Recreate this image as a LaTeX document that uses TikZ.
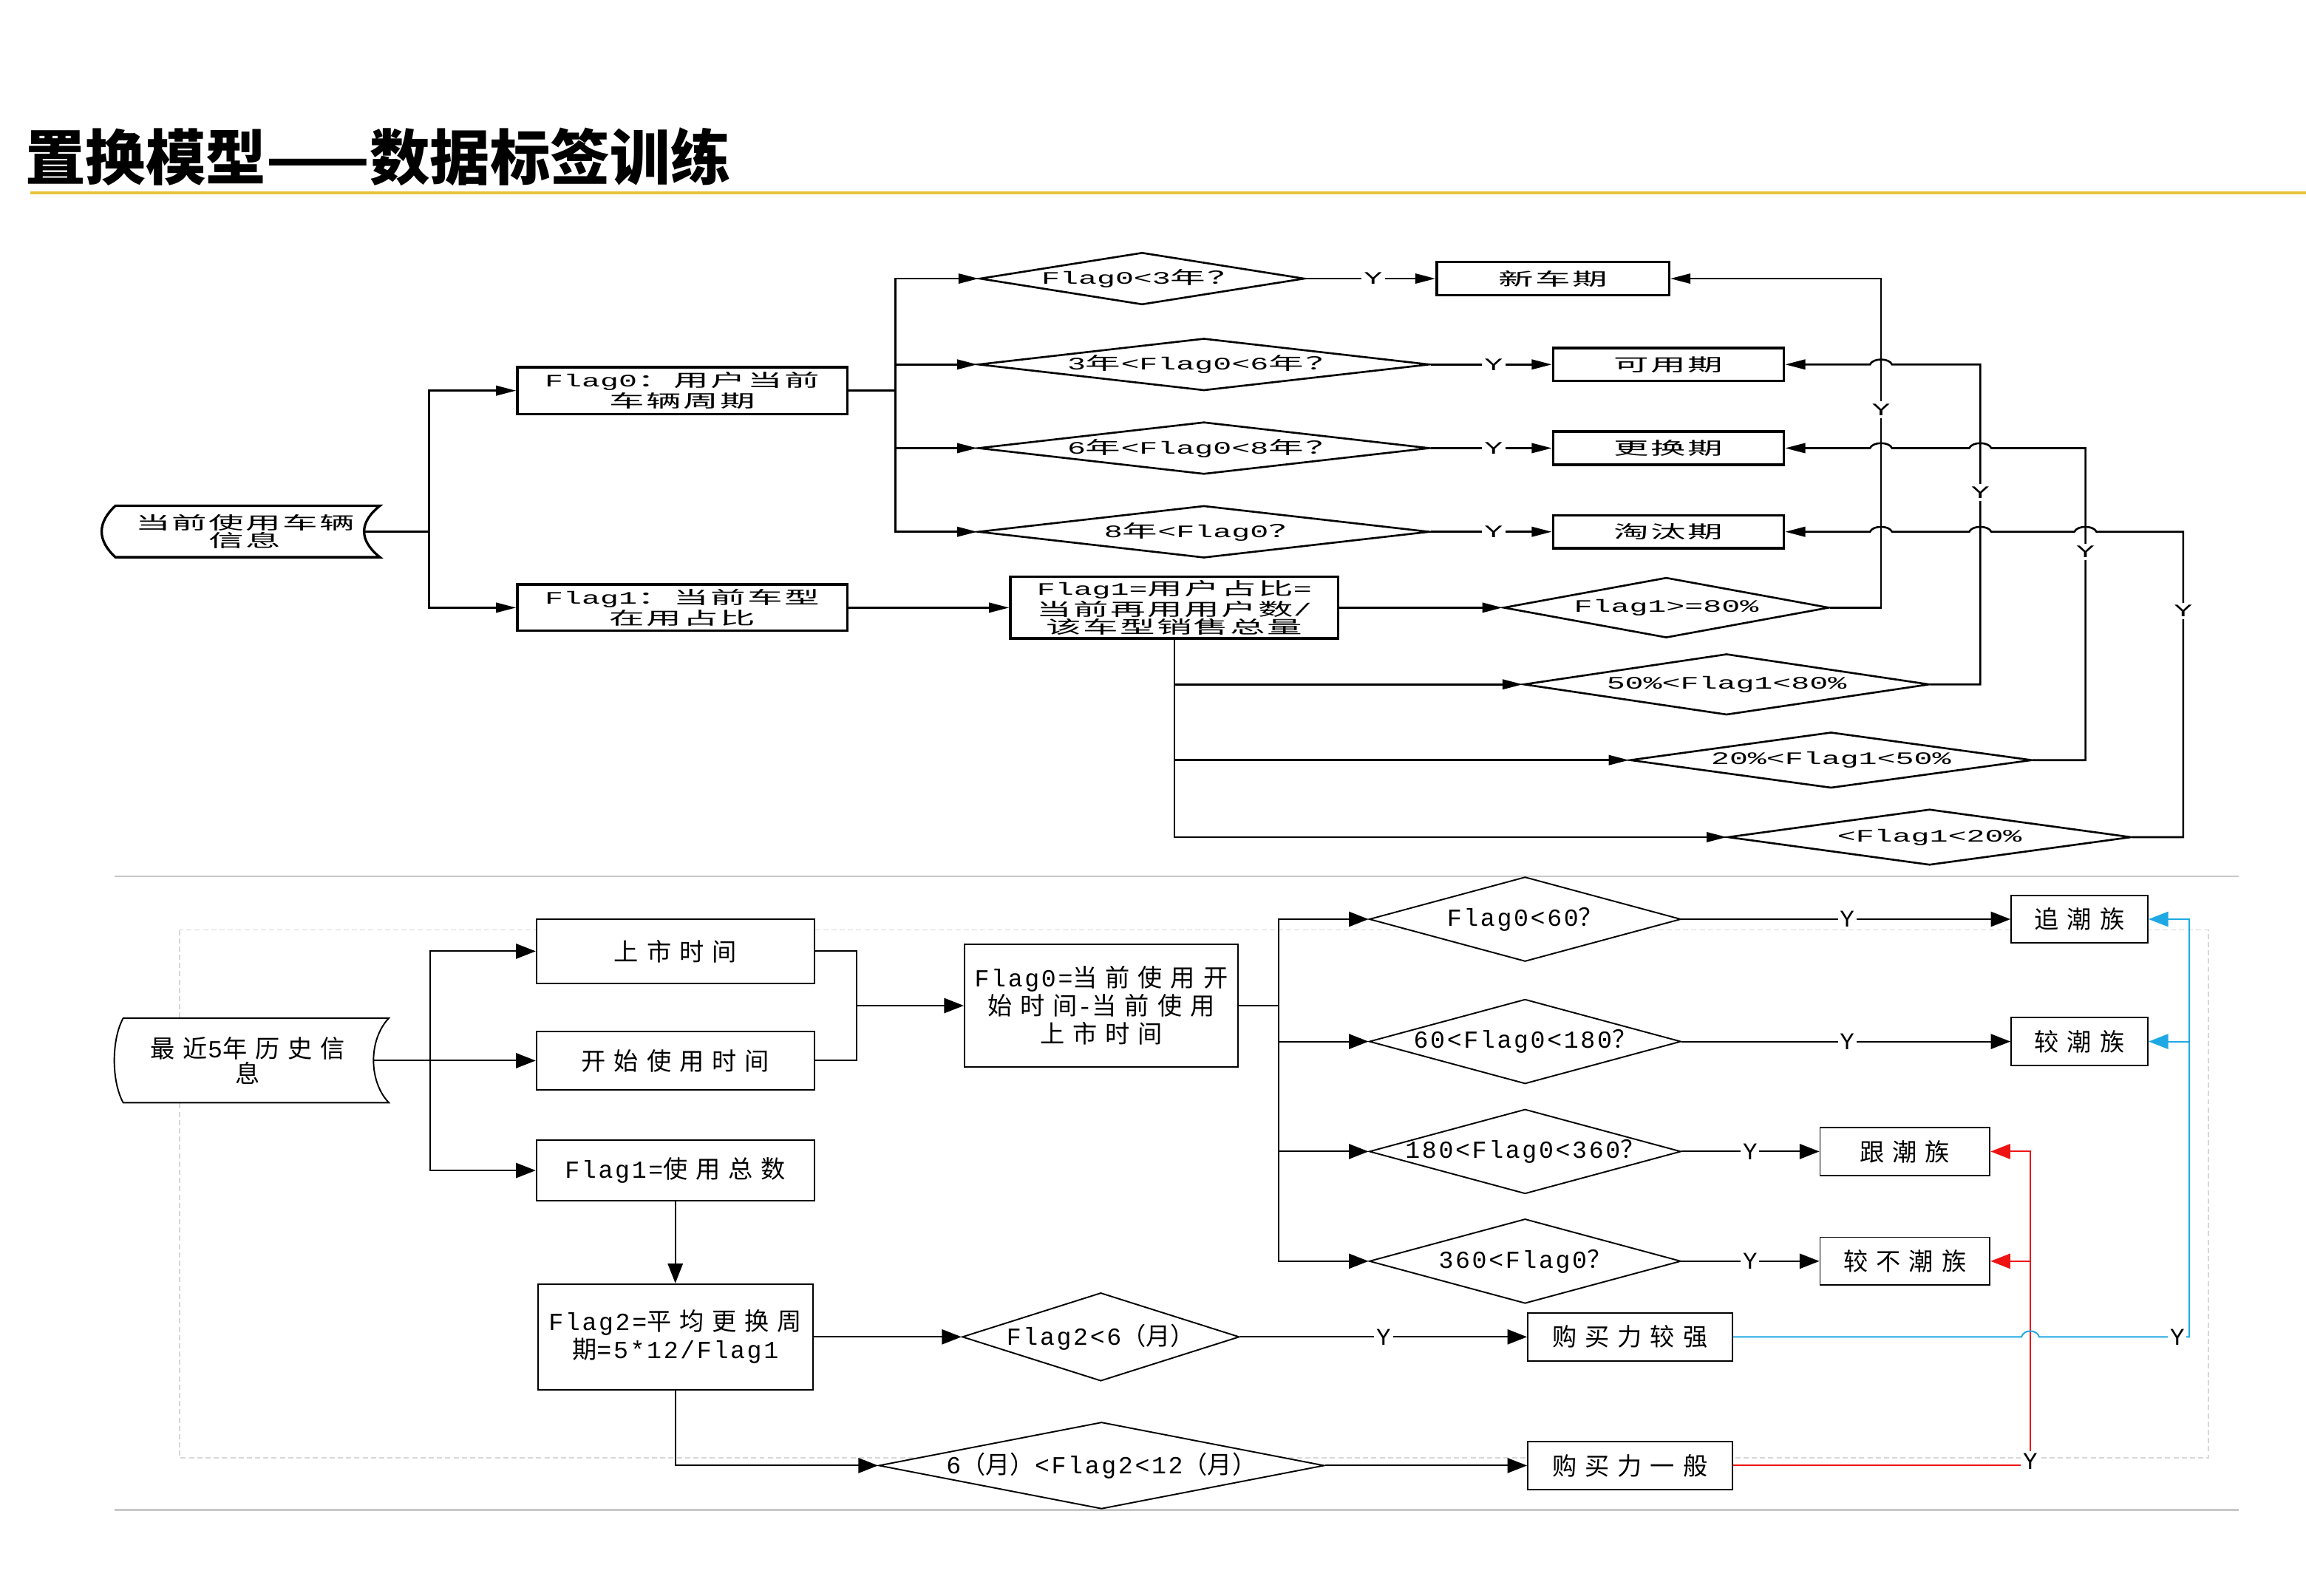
\documentclass[tikz,border=0pt]{standalone}
\usepackage{fontspec}
\usetikzlibrary{shapes.geometric,arrows.meta,calc}
\setmainfont{Noto Sans CJK SC}
\newfontfamily\titlefont{Noto Sans CJK SC}
\newfontfamily\cjktop[FakeStretch=2.0,LetterSpace=10]{Noto Sans CJK SC}
\newfontfamily\monotop[FakeStretch=1.75]{Liberation Mono}
\newfontfamily\cjkbot[LetterSpace=33]{Noto Sans CJK SC}
\newfontfamily\cjkplain{Noto Sans CJK SC}
\newfontfamily\monobot[LetterSpace=8]{Liberation Mono}
\newcommand\mt[1]{{\monotop #1}}
\newcommand\mb[1]{{\monobot #1}}
\newcommand\pp[1]{{\cjkplain #1}}
\definecolor{ttlline}{RGB}{232,196,60}
\definecolor{sepgray}{RGB}{200,200,200}
\definecolor{framegray}{RGB}{215,215,215}
\definecolor{cyanln}{RGB}{30,168,228}
\definecolor{redln}{RGB}{238,20,20}
\tikzset{
 tfont/.style={font={\cjktop\fontsize{6.8pt}{6.8pt}\selectfont}},
 tline/.style={line width=0.75pt},
 tarr/.style={tline,-{Triangle[length=7.8pt,width=3.8pt]}},
 tbox/.style={draw, line width=0.95pt, fill=white, inner sep=0, align=center, tfont},
 tdia/.style={draw, diamond, line width=0.75pt, fill=white, inner sep=0},
 tlab/.style={tfont, inner sep=0, align=center},
 tY/.style={fill=white, text=black, inner sep=1pt, font={\monotop\fontsize{6.8pt}{6.8pt}\selectfont}},
 bfontx/.style={font={\cjkbot\fontsize{9.5pt}{10.9pt}\selectfont}},
 bline/.style={line width=0.55pt},
 barr/.style={bline,-{Triangle[length=7.6pt,width=5.8pt]}},
 bbox/.style={draw, line width=0.55pt, fill=white, inner sep=0, align=center, bfontx},
 bdia/.style={draw, diamond, line width=0.55pt, fill=white, inner sep=0},
 blab/.style={bfontx, inner sep=0, align=center},
 bY/.style={fill=white, text=black, inner sep=0.8pt, font={\monobot\fontsize{9.3pt}{9.3pt}\selectfont}},
}
\begin{document}
\begin{tikzpicture}[x=0.02cm,y=-0.02cm]
\useasboundingbox (0,0) rectangle (1568,1085.5);
% ---------- title ----------
\node[anchor=west, inner sep=0, font={\titlefont\bfseries\fontsize{23.3pt}{24pt}\selectfont}] (title) at (17,106.5) {置换模型——数据标签训练};
\draw[ttlline, line width=1.2pt] (20.7,131) -- (1568,131);
% ---------- separators and frame ----------
\draw[sepgray, line width=0.8pt] (77.7,596) -- (1522,596);
\draw[sepgray, line width=0.8pt] (77.7,1027) -- (1522,1027);
\draw[framegray, line width=0.5pt, dash pattern=on 2pt off 1.2pt] (122,632.5) rectangle (1501.6,991.5);

% ================= TOP DIAGRAM =================
\draw[line width=0.95pt, fill=white] (78.5,344) -- (258.3,344) .. controls (244,355.5) and (244,367.5) .. (258.3,379) -- (78.5,379) .. controls (66,367.5) and (66,355.5) .. (78.5,344) -- cycle;
\node[minimum width=3.57cm, minimum height=0.7cm, inner sep=0, label={[tlab,xshift=0.166cm]center:当前使用车辆\\信息}] (t1) at (158.4,361.5) {};

\node[tbox, minimum width=4.49cm, minimum height=0.64cm] (b0) at (464,265.7) {\mt{Flag0}：用户当前\\车辆周期};
\node[tbox, minimum width=4.49cm, minimum height=0.63cm] (b1) at (464,413.3) {\mt{Flag1}：当前车型\\在用占比};

\node[tdia, minimum width=4.42cm, minimum height=0.71cm, label={[tlab]center:\mt{Flag0<3}年？}] (d1) at (776.6,189.5) {};
\node[tdia, minimum width=6.14cm, minimum height=0.71cm, label={[tlab]center:\mt{3}年\mt{<Flag0<6}年？}] (d2) at (818.6,247.9) {};
\node[tdia, minimum width=6.14cm, minimum height=0.71cm, label={[tlab]center:\mt{6}年\mt{<Flag0<8}年？}] (d3) at (818.6,304.8) {};
\node[tdia, minimum width=6.14cm, minimum height=0.71cm, label={[tlab]center:\mt{8}年\mt{<Flag0}？}] (d4) at (818.6,361.7) {};

\node[tbox, minimum width=3.16cm, minimum height=0.45cm] (n1) at (1055.9,189.5) {新车期};
\node[tbox, minimum width=3.14cm, minimum height=0.45cm] (n2) at (1134.5,247.9) {可用期};
\node[tbox, minimum width=3.14cm, minimum height=0.45cm] (n3) at (1134.5,304.8) {更换期};
\node[tbox, minimum width=3.14cm, minimum height=0.45cm] (n4) at (1134.5,361.7) {淘汰期};

\node[tbox, minimum width=4.46cm, minimum height=0.84cm] (f1) at (798.5,413.3) {\mt{Flag1=}用户占比\mt{=}\\当前再用用户数\mt{/}\\该车型销售总量};

\node[tdia, minimum width=4.43cm, minimum height=0.82cm, label={[tlab]center:\mt{Flag1>=80\%}}] (e1) at (1133,413.3) {};
\node[tdia, minimum width=5.52cm, minimum height=0.83cm, label={[tlab]center:\mt{50\%<Flag1<80\%}}] (e2) at (1174,465.5) {};
\node[tdia, minimum width=5.47cm, minimum height=0.76cm, label={[tlab]center:\mt{20\%<Flag1<50\%}}] (e3) at (1245,517) {};
\node[tdia, minimum width=5.49cm, minimum height=0.76cm, label={[tlab]center:\mt{<Flag1<20\%}}] (e4) at (1312,569.4) {};

\coordinate (tj) at (291.7,361.5);
\coordinate (tk) at (609,0);
\coordinate (c1) at (1279,0);
\coordinate (c2) at (1346.5,0);
\coordinate (c3) at (1418,0);
\coordinate (c4) at (1484.5,0);

\draw[tline] (t1.east) -- (tj);
\draw[tarr] (tj) |- (b0.west);
\draw[tarr] (tj) |- (b1.west);
\draw[tline] (b0.east) -- (b0.east -| tk);
\foreach \dd in {d1,d2,d3,d4} \draw[tarr] (b0.east -| tk) |- (\dd.west);
\draw[tarr] (d1.east) -- node[tY,pos=0.52]{Y} (n1.west);
\draw[tarr] (d2.east) -- node[tY,pos=0.52]{Y} (n2.west);
\draw[tarr] (d3.east) -- node[tY,pos=0.52]{Y} (n3.west);
\draw[tarr] (d4.east) -- node[tY,pos=0.52]{Y} (n4.west);
\draw[tarr] (b1.east) -- (f1.west);
\draw[tarr] (f1.east) -- (e1.west);
\draw[tarr] (f1.south) |- (e2.west);
\draw[tarr] (f1.south) |- (e3.west);
\draw[tarr] (f1.south) |- (e4.west);

\draw[tarr] (e1.east) -- (e1.east -| c1) -- node[tY,pos=0.602]{Y} (n1.east -| c1) -- (n1.east);
\draw[tarr] (e2.east) -- (e2.east -| c2) -- node[tY,pos=0.60]{Y} (n2.east -| c2)
  -- (1286.5,247.9) .. controls (1284.5,243.4) and (1273.5,243.4) .. (1271.5,247.9) -- (n2.east);
\draw[tarr] (e3.east) -- (e3.east -| c3) -- node[tY,pos=0.667]{Y} (n3.east -| c3)
  -- (1354,304.8) .. controls (1352,300.3) and (1341,300.3) .. (1339,304.8)
  -- (1286.5,304.8) .. controls (1284.5,300.3) and (1273.5,300.3) .. (1271.5,304.8) -- (n3.east);
\draw[tarr] (e4.east) -- (e4.east -| c4) -- node[tY,pos=0.74]{Y} (n4.east -| c4)
  -- (1425.5,361.7) .. controls (1423.5,357.2) and (1412.5,357.2) .. (1410.5,361.7)
  -- (1354,361.7) .. controls (1352,357.2) and (1341,357.2) .. (1339,361.7)
  -- (1286.5,361.7) .. controls (1284.5,357.2) and (1273.5,357.2) .. (1271.5,361.7) -- (n4.east);

% ================= BOTTOM DIAGRAM =================
\draw[line width=0.55pt, fill=white] (83.8,692.5) -- (264.4,692.5) .. controls (250.5,707) and (250.5,735.5) .. (264.4,750) -- (83.8,750) .. controls (75.7,735.5) and (75.7,707) .. (83.8,692.5) -- cycle;
\node[minimum width=3.53cm, minimum height=1.15cm, inner sep=0, label={[blab, font={\cjkbot\fontsize{9.5pt}{9.9pt}\selectfont}, xshift=0.052cm]center:最近\mb{5}年历史信\\息}] (t2) at (165.9,721.4) {};

\node[bbox, minimum width=3.78cm, minimum height=0.87cm] (k1) at (459.2,647) {上市时间};
\node[bbox, minimum width=3.78cm, minimum height=0.80cm] (k2) at (459.2,721.4) {开始使用时间};
\node[bbox, minimum width=3.78cm, minimum height=0.82cm] (k3) at (459.2,796.1) {\mb{Flag1=}使用总数};
\node[bbox, minimum width=3.74cm, minimum height=1.44cm] (k4) at (459.2,909.3) {\mb{Flag2=}平均更换周\\期\mb{=5*12/Flag1}};
\node[bbox, minimum width=3.72cm, minimum height=1.67cm] (g0) at (748.8,684) {\mb{Flag0=}当前使用开\\始时间\mb{-}当前使用\\上市时间};

\node[bdia, minimum width=4.24cm, minimum height=1.15cm, label={[blab]center:\mb{Flag0<60}？}] (m1) at (1037,625.2) {};
\node[bdia, minimum width=4.24cm, minimum height=1.15cm, label={[blab]center:\mb{60<Flag0<180}？}] (m2) at (1037,708.4) {};
\node[bdia, minimum width=4.24cm, minimum height=1.15cm, label={[blab]center:\mb{180<Flag0<360}？}] (m3) at (1037,783.2) {};
\node[bdia, minimum width=4.24cm, minimum height=1.15cm, label={[blab]center:\mb{360<Flag0}？}] (m4) at (1037,857.8) {};

\node[bbox, minimum width=1.86cm, minimum height=0.65cm] (zc) at (1414,625.2) {追潮族};
\node[bbox, minimum width=1.86cm, minimum height=0.65cm] (jc) at (1414,708.4) {较潮族};
\node[bbox, minimum width=2.31cm, minimum height=0.65cm] (gc) at (1295.3,783.2) {跟潮族};
\node[bbox, minimum width=2.31cm, minimum height=0.65cm] (bc) at (1295.3,857.8) {较不潮族};

\node[bdia, minimum width=3.77cm, minimum height=1.2cm, label={[blab]center:\mb{Flag2<6}\pp{（}月\pp{）}}] (q1) at (748.5,909.3) {};
\node[bdia, minimum width=6.06cm, minimum height=1.18cm, label={[blab]center:\mb{6}\pp{（}月\pp{）}\mb{<Flag2<12}\pp{（}月\pp{）}}] (q2) at (749,996.8) {};

\node[bbox, minimum width=2.78cm, minimum height=0.65cm] (bq) at (1108.3,909.3) {购买力较强};
\node[bbox, minimum width=2.78cm, minimum height=0.66cm] (by) at (1108.3,996.8) {购买力一般};

\coordinate (bj) at (292.5,0);
\coordinate (mj) at (582.6,0);
\coordinate (dj) at (869.5,0);
\coordinate (rc) at (1380.5,0);
\coordinate (cc) at (1488.6,0);

\draw[barr] (t2.east) -- (k2.west);
\draw[barr] (t2.east -| bj) |- (k1.west);
\draw[barr] (t2.east -| bj) |- (k3.west);
\draw[bline] (k1.east) -| (mj |- k2.east) -- (k2.east);
\draw[barr] (g0.west -| mj) -- (g0.west);
\draw[bline] (g0.east) -- (g0.east -| dj);
\foreach \mm in {m1,m2,m3,m4} \draw[barr] (g0.east -| dj) |- (\mm.west);
\draw[barr] (m1.east) -- node[bY,pos=0.503]{Y} (zc.west);
\draw[barr] (m2.east) -- node[bY,pos=0.503]{Y} (jc.west);
\draw[barr] (m3.east) -- node[bY,pos=0.497]{Y} (gc.west);
\draw[barr] (m4.east) -- node[bY,pos=0.497]{Y} (bc.west);
\draw[barr] (k3.south) -- (k4.north);
\draw[barr] (k4.east) -- (q1.west);
\draw[barr] (k4.south) |- (q2.west);
\draw[barr] (q1.east) -- node[bY,pos=0.5]{Y} (bq.west);
\draw[barr] (q2.east) -- (by.west);

% red
\draw[barr, redln] (by.east -| rc) -- (bc.east -| rc) -- (bc.east);
\draw[barr, redln] (by.east) -- (by.east -| rc) node[bY, yshift=0.06cm]{Y} -- (gc.east -| rc) -- (gc.east);
% cyan
\draw[barr, cyanln] (jc.east -| cc) -- (jc.east);
\draw[barr, cyanln] (bq.east) -- (1374.5,909.3) .. controls (1376,904) and (1385,904) .. (1386.5,909.3)
  -- node[bY,pos=0.92]{Y} (bq.east -| cc) -- (zc.east -| cc) -- (zc.east);
\end{tikzpicture}
\end{document}
